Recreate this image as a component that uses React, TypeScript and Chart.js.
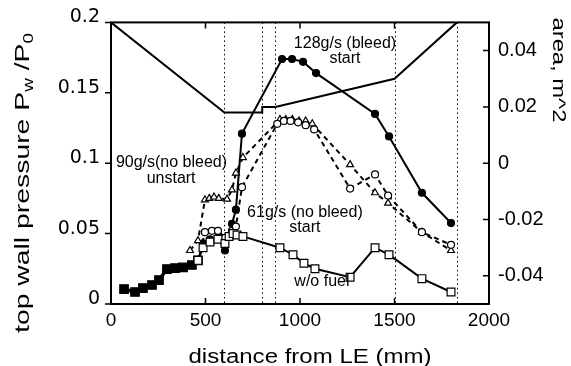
import React, { useEffect, useRef } from "react";
import { Chart, registerables } from "chart.js";
Chart.register(...registerables);

// distance from LE (mm) / top wall pressure Pw/P0
const upstreamX = [69, 127, 169, 217, 254, 296, 339, 381, 428, 460];
const upstreamP = [0.0106, 0.0085, 0.0113, 0.0135, 0.017, 0.0248, 0.0255, 0.026, 0.0277, 0.031];

const bleed128X = [460, 487, 524, 566, 603, 625, 640, 661, 693, 905, 958, 1016, 1085, 1397, 1471, 1645, 1799];
const bleed128P = [0.031, 0.043, 0.046, 0.047, 0.038, 0.048, 0.057, 0.067, 0.121, 0.174, 0.174, 0.172, 0.164, 0.135, 0.119, 0.079, 0.0575];

const unstart90X = [418, 460, 497, 520, 545, 570, 614, 640, 661, 698, 894, 925, 960, 995, 1030, 1065, 1265, 1397, 1466, 1645, 1799];
const unstart90P = [0.038, 0.045, 0.074, 0.075, 0.076, 0.075, 0.0745, 0.081, 0.093, 0.104, 0.131, 0.131, 0.131, 0.13, 0.13, 0.128, 0.099, 0.079, 0.0716, 0.051, 0.038];

const start61X = [460, 497, 534, 566, 603, 640, 661, 693, 880, 915, 950, 990, 1030, 1075, 1265, 1397, 1466, 1645, 1799];
const start61P = [0.031, 0.051, 0.052, 0.052, 0.047, 0.052, 0.055, 0.083, 0.128, 0.13, 0.13, 0.129, 0.127, 0.124, 0.082, 0.092, 0.077, 0.051, 0.042];

const woFuelX = [460, 487, 524, 566, 603, 625, 646, 667, 698, 894, 963, 1021, 1079, 1265, 1397, 1471, 1645, 1799];
const woFuelP = [0.031, 0.04, 0.044, 0.046, 0.043, 0.048, 0.05, 0.049, 0.048, 0.04, 0.035, 0.029, 0.025, 0.019, 0.04, 0.035, 0.018, 0.0085];

// area, m^2 (right axis)
const areaX = [0, 600, 800, 800, 870, 1500, 1830];
const areaY = [0.05, 0.018, 0.018, 0.02, 0.02, 0.03, 0.05];

const dottedLinesX = [600, 800, 870, 1500, 1830];

const xTicks = [0, 500, 1000, 1500, 2000];
const yTicks = [0, 0.05, 0.1, 0.15, 0.2];
const y2Ticks = [-0.04, -0.02, 0, 0.02, 0.04];
const xTickLabels = ["0", "500", "1000", "1500", "2000"];
const yTickLabels = ["0", "0.05", "0.1", "0.15", "0.2"];
const y2TickLabels = ["-0.04", "-0.02", "0", "0.02", "0.04"];

const annotations = [
  { text: "128g/s (bleed)", x: 1238, y: 0.1851 },
  { text: "start", x: 1238, y: 0.1745 },
  { text: "90g/s(no bleed)", x: 320, y: 0.1007 },
  { text: "unstart", x: 318, y: 0.0894 },
  { text: "61g/s (no bleed)", x: 1026, y: 0.0652 },
  { text: "start", x: 1026, y: 0.0546 },
  { text: "w/o fuel", x: 1116, y: 0.0156 },
];

const pts = (xs: number[], ys: number[]) => xs.map((x, i) => ({ x, y: ys[i] }));

const FONT = '"Liberation Sans", Arial, sans-serif';
const WIDE = '"DejaVu Sans", sans-serif';

type Part = { text: string; sub?: boolean };

function drawFitted(
  ctx: CanvasRenderingContext2D,
  parts: Part[],
  cx: number,
  cy: number,
  rot: number,
  targetLen: number,
  size: number,
  baseline: CanvasTextBaseline
) {
  const main = `${size}px ${FONT}`;
  const subSize = Math.round(size * 0.65);
  const sub = `${subSize}px ${FONT}`;
  let total = 0;
  const widths = parts.map((p) => {
    ctx.font = p.sub ? sub : main;
    const w = ctx.measureText(p.text).width;
    total += w;
    return w;
  });
  const k = targetLen / total;
  ctx.save();
  ctx.translate(cx, cy);
  ctx.rotate(rot);
  ctx.scale(k, 1);
  ctx.fillStyle = "#000";
  ctx.textAlign = "left";
  ctx.textBaseline = baseline;
  let x = -total / 2;
  parts.forEach((p, i) => {
    ctx.font = p.sub ? sub : main;
    ctx.fillText(p.text, x, p.sub ? size * 0.3 : 0);
    x += widths[i];
  });
  ctx.restore();
}

const overlay = {
  id: "overlay",
  beforeDatasetsDraw(chart: any) {
    const { ctx, chartArea: a, scales } = chart;
    ctx.save();
    ctx.strokeStyle = "#000";
    ctx.lineWidth = 1;
    ctx.setLineDash([1.5, 3]);
    for (const v of dottedLinesX) {
      const px = Math.round(scales.x.getPixelForValue(v)) + 0.5;
      ctx.beginPath();
      ctx.moveTo(px, a.top);
      ctx.lineTo(px, a.bottom);
      ctx.stroke();
    }
    ctx.restore();
  },
  afterDatasetsDraw(chart: any) {
    const { ctx, chartArea: a, scales } = chart;
    ctx.save();
    ctx.strokeStyle = "#000";
    ctx.lineWidth = 2;
    ctx.setLineDash([]);
    ctx.strokeRect(a.left, a.top, a.right - a.left, a.bottom - a.top);
    ctx.lineWidth = 1.5;
    ctx.beginPath();
    for (const v of yTicks) {
      const py = scales.y.getPixelForValue(v);
      ctx.moveTo(a.left - 6, py);
      ctx.lineTo(a.left, py);
    }
    for (const v of y2Ticks) {
      const py = scales.y2.getPixelForValue(v);
      ctx.moveTo(a.right - 6, py);
      ctx.lineTo(a.right, py);
    }
    for (const v of xTicks) {
      const px = scales.x.getPixelForValue(v);
      ctx.moveTo(px, a.bottom);
      ctx.lineTo(px, a.bottom - 6);
      ctx.moveTo(px, a.top);
      ctx.lineTo(px, a.top + 6);
    }
    ctx.stroke();
    ctx.restore();
  },
  afterDraw(chart: any) {
    const { ctx, scales } = chart;
    ctx.save();
    ctx.fillStyle = "#000";
    ctx.font = `16px ${FONT}`;
    ctx.textAlign = "center";
    ctx.textBaseline = "middle";
    for (const an of annotations) {
      ctx.fillText(an.text, scales.x.getPixelForValue(an.x), scales.y.getPixelForValue(an.y));
    }
    ctx.restore();
    drawFitted(ctx, [{ text: "distance from LE (mm)" }], 310, 363, 0, 243, 20, "alphabetic");
    drawFitted(
      ctx,
      [
        { text: "top wall pressure P" },
        { text: "w", sub: true },
        { text: " /P" },
        { text: "0", sub: true },
      ],
      23,
      183,
      -Math.PI / 2,
      300,
      21,
      "middle"
    );
    drawFitted(ctx, [{ text: "area, m^2" }], 558, 70, Math.PI / 2, 105, 18, "middle");
  },
};

export default function App() {
  const ref = useRef<HTMLCanvasElement>(null);
  useEffect(() => {
    Chart.defaults.font.family = FONT;
    Chart.defaults.color = "#000";
    const common = {
      borderColor: "#000",
      pointBorderColor: "#000",
      pointBorderWidth: 1.2,
      fill: false,
      tension: 0,
      yAxisID: "y",
    };
    const chart = new Chart(ref.current!, {
      type: "line",
      data: {
        datasets: [
          {
            ...common,
            label: "w/o fuel",
            data: pts(woFuelX, woFuelP),
            borderWidth: 2,
            pointStyle: "rect",
            pointRadius: 5.5,
            pointBackgroundColor: "#fff",
          },
          {
            ...common,
            label: "61g/s (no bleed) start",
            data: pts(start61X, start61P),
            borderWidth: 2,
            borderDash: [5, 4],
            pointStyle: "circle",
            pointRadius: 3.5,
            pointBackgroundColor: "#fff",
          },
          {
            ...common,
            label: "90g/s (no bleed) unstart",
            data: pts(unstart90X, unstart90P),
            borderWidth: 2,
            borderDash: [5, 4],
            pointStyle: "triangle",
            pointRadius: 4,
            pointBackgroundColor: "#fff",
          },
          {
            ...common,
            label: "128g/s (bleed) start",
            data: pts(bleed128X, bleed128P),
            borderWidth: 2,
            pointStyle: "circle",
            pointRadius: 3.5,
            pointBackgroundColor: "#000",
          },
          {
            ...common,
            label: "upstream",
            data: pts(upstreamX, upstreamP),
            borderWidth: 3.5,
            pointStyle: "rect",
            pointRadius: 6,
            pointBackgroundColor: "#000",
          },
          {
            ...common,
            label: "area",
            yAxisID: "y2",
            data: pts(areaX, areaY),
            borderWidth: 2,
            pointRadius: 0,
          },
        ],
      },
      options: {
        animation: false,
        responsive: false,
        maintainAspectRatio: false,
        layout: { padding: { top: 22, left: 0, right: 0, bottom: 0 } },
        plugins: { legend: { display: false }, tooltip: { enabled: false }, title: { display: false } },
        scales: {
          x: {
            type: "linear",
            min: 0,
            max: 2000,
            afterBuildTicks: (s: any) => {
              s.ticks = xTicks.map((v) => ({ value: v }));
            },
            afterFit: (s: any) => {
              s.height = 62;
            },
            grid: { display: false, drawTicks: false },
            border: { display: false },
            ticks: {
              padding: 5,
              maxRotation: 0,
              autoSkip: false,
              font: { size: 19, family: FONT },
              color: "#000",
              callback: (v: any) => xTickLabels[xTicks.indexOf(v)] ?? "",
            },
          },
          y: {
            type: "linear",
            position: "left",
            min: 0,
            max: 0.2,
            afterBuildTicks: (s: any) => {
              s.ticks = yTicks.map((v) => ({ value: v }));
            },
            afterFit: (s: any) => {
              s.width = 111;
            },
            grid: { display: false, drawTicks: false },
            border: { display: false },
            ticks: {
              padding: 11,
              labelOffset: -5,
              autoSkip: false,
              font: { size: 19, family: WIDE },
              color: "#000",
              callback: (v: any) => yTickLabels[yTicks.indexOf(v)] ?? "",
            },
          },
          y2: {
            type: "linear",
            position: "right",
            min: -0.05,
            max: 0.05,
            afterBuildTicks: (s: any) => {
              s.ticks = y2Ticks.map((v) => ({ value: v }));
            },
            afterFit: (s: any) => {
              s.width = 82;
            },
            grid: { display: false, drawTicks: false },
            border: { display: false },
            ticks: {
              padding: 9,
              autoSkip: false,
              font: { size: 20, family: FONT },
              color: "#000",
              callback: (v: any) => y2TickLabels[y2Ticks.indexOf(v)] ?? "",
            },
          },
        },
      } as any,
      plugins: [overlay],
    });
    return () => chart.destroy();
  }, []);
  return (
    <canvas
      ref={ref}
      width={571}
      height={366}
      style={{ position: "fixed", left: 0, top: 0, width: 571, height: 366, background: "#fff" }}
    />
  );
}
